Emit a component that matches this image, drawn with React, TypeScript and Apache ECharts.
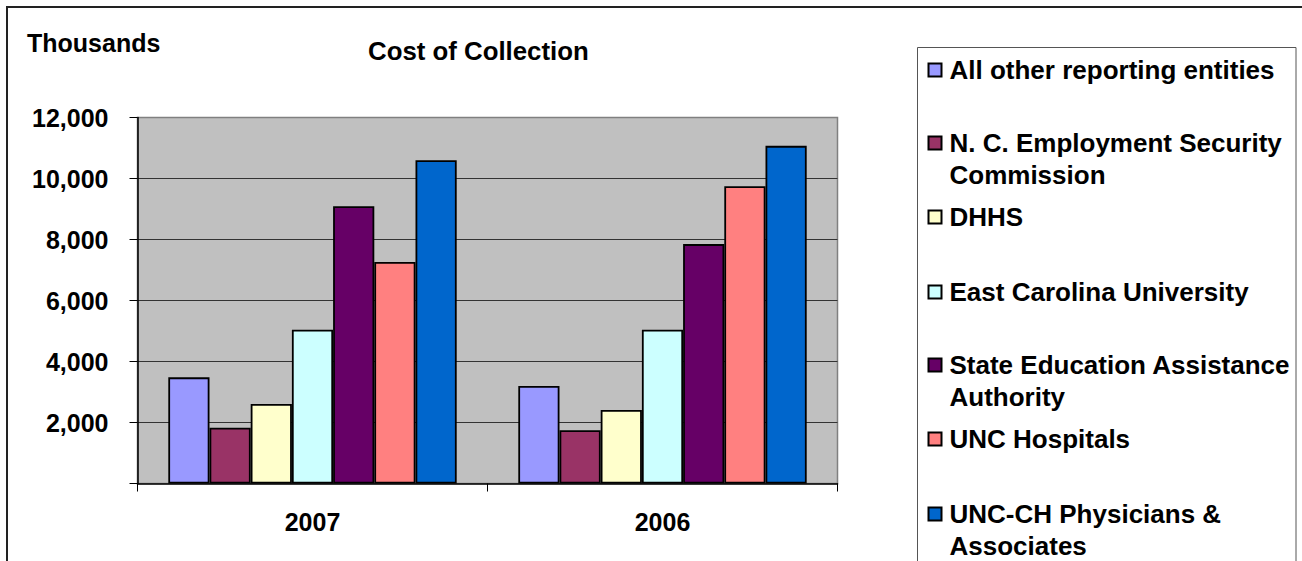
import React, { useEffect, useRef } from "react";
import * as echarts from "echarts";

const categories = ["2007", "2006"];
const seriesNames = [
  "All other reporting entities",
  "N. C. Employment Security Commission",
  "DHHS",
  "East Carolina University",
  "State Education Assistance Authority",
  "UNC Hospitals",
  "UNC-CH Physicians & Associates",
];
const legendLabels = [
  "All other reporting entities",
  "N. C. Employment Security\nCommission",
  "DHHS",
  "East Carolina University",
  "State Education Assistance\nAuthority",
  "UNC Hospitals",
  "UNC-CH Physicians &\nAssociates",
];
const values2007 = [3480, 1830, 2610, 5040, 9090, 7260, 10600];
const values2006 = [3200, 1750, 2410, 5040, 7850, 9750, 11070];
const colors = ["#9999FF", "#993366", "#FFFFCC", "#CCFFFF", "#660066", "#FF8080", "#0066CC"];
const yMin = 0;
const yMax = 12000;
const yStep = 2000;

const FONT = "'Liberation Sans', Arial, sans-serif";

export default function App() {
  const ref = useRef<HTMLDivElement>(null);
  useEffect(() => {
    if (!ref.current) return;
    const chart = echarts.init(ref.current, null, { renderer: "svg" });
    const legendCenters = [70, 143, 217, 292, 365, 439, 514];
    const LH = 32;
    const option: any = {
      animation: false,
      backgroundColor: "#ffffff",
      title: [
        {
          text: "Cost of Collection",
          left: 368,
          top: 38,
          padding: 0,
          textStyle: { fontFamily: FONT, fontSize: 25.8, fontWeight: "bold", color: "#000" },
        },
        {
          text: "Thousands",
          left: 27,
          top: 30,
          padding: 0,
          textStyle: { fontFamily: FONT, fontSize: 25, fontWeight: "bold", color: "#000" },
        },
      ],
      grid: {
        left: 137.5,
        top: 117.5,
        width: 700,
        height: 366,
        show: true,
        backgroundColor: "#C0C0C0",
        borderColor: "#808080",
        borderWidth: 1.5,
      },
      xAxis: {
        type: "category",
        data: categories,
        axisLine: { show: true, lineStyle: { color: "#000", width: 1.5 } },
        axisTick: { show: true, length: 8, alignWithLabel: false, lineStyle: { color: "#000" } },
        axisLabel: { margin: 26, fontFamily: FONT, fontSize: 25, fontWeight: "bold", color: "#000" },
        splitLine: { show: false },
      },
      yAxis: {
        type: "value",
        min: yMin,
        max: yMax,
        interval: yStep,
        axisLine: { show: true, lineStyle: { color: "#000", width: 1.5 } },
        axisTick: { show: true, length: 8, inside: false, lineStyle: { color: "#000" } },
        axisLabel: {
          margin: 29,
          fontFamily: FONT,
          fontSize: 25,
          fontWeight: "bold",
          color: "#000",
          formatter: (v: number) => (v === 0 ? "" : v.toLocaleString("en-US")),
        },
        splitLine: { show: true, showMinLine: false, showMaxLine: false, lineStyle: { color: "#333", width: 1 } },
      },
      legend: seriesNames.map((name, i) => {
        const multi = legendLabels[i].indexOf("\n") >= 0;
        return {
          data: [name],
          orient: "vertical",
          left: 927.5,
          top: multi ? legendCenters[i] - 1.5 * LH : legendCenters[i] - 0.5 * LH,
          padding: 0,
          itemWidth: 13,
          itemHeight: 13,
          icon: "rect",
          selectedMode: false,
          formatter: () => (multi ? " \n" + legendLabels[i] : legendLabels[i]),
          textStyle: {
            fontFamily: FONT,
            fontSize: 26,
            fontWeight: "bold",
            color: "#000",
            lineHeight: LH,
            padding: [0, 0, 0, 3],
          },
        };
      }),
      series: seriesNames.map((name, i) => ({
        name,
        type: "bar",
        data: [values2007[i], values2006[i]],
        barWidth: 41.2,
        barGap: "0%",
        itemStyle: { color: colors[i], borderColor: "#000", borderWidth: 1.8 },
      })),
      graphic: [
        {
          type: "rect",
          shape: { x: 917.5, y: 47.5, width: 378.5, height: 600 },
          style: { fill: "none", stroke: "#555", lineWidth: 1 },
          silent: true,
        },
        {
          type: "rect",
          shape: { x: 7, y: 7, width: 1400, height: 700 },
          style: { fill: "none", stroke: "#222", lineWidth: 2 },
          silent: true,
        },
      ],
    };
    chart.setOption(option);
    return () => chart.dispose();
  }, []);
  return (
    <div
      ref={ref}
      style={{ position: "fixed", left: 0, top: 0, width: 1302, height: 561, background: "#fff" }}
    />
  );
}
